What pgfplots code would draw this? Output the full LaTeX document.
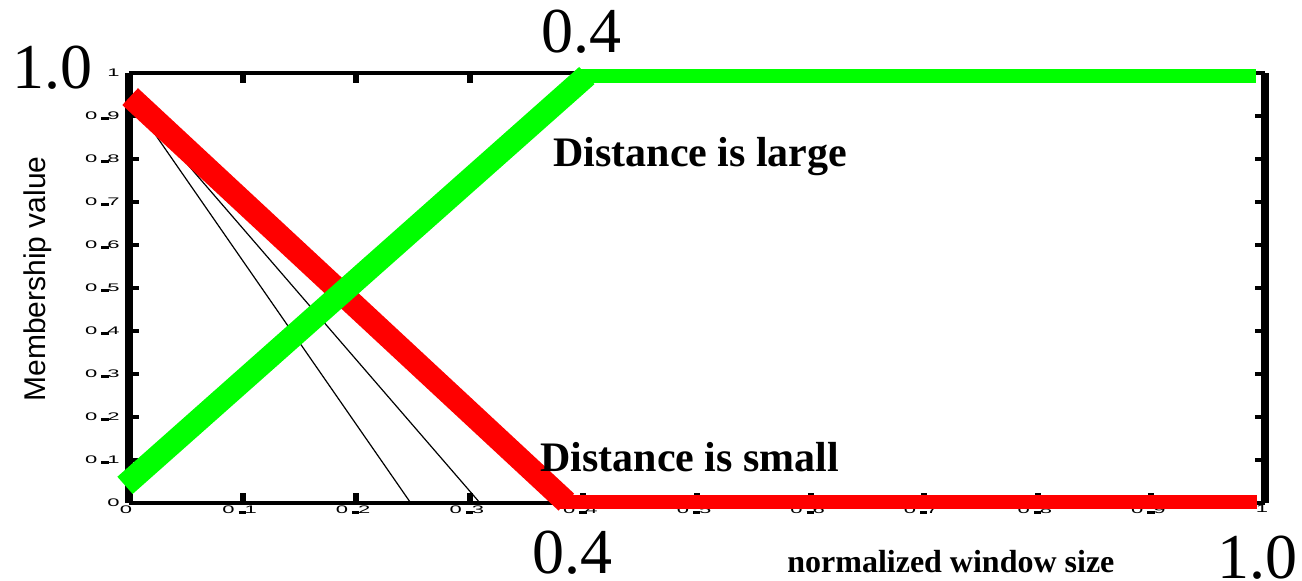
\documentclass[border=0pt]{standalone}
\usepackage{fontspec}
\setmainfont{Liberation Serif}
\newfontfamily\sans{Liberation Sans}
\usepackage{graphicx}
\usepackage{pgfplots}
\pgfplotsset{compat=1.18}
\newcommand{\sz}[1]{\scalebox{2.0}[1]{#1}}
\newcommand{\tl}[1]{\sz{0}\hspace{2pt}\raisebox{-0.6pt}{\rule{3.6pt}{1.7pt}}\hspace{-0.6pt}\sz{#1}}
\definecolor{mygreen}{RGB}{0,255,0}
\definecolor{myred}{RGB}{255,0,0}
\begin{document}
\begin{tikzpicture}
\begin{axis}[
  scale only axis, width=568pt, height=215pt,
  xmin=0, xmax=1, ymin=0, ymax=1,
  clip=false,
  separate axis lines,
  x axis line style={line width=2.3pt},
  y axis line style={line width=3.8pt},
  tick align=inside,
  major tick length=5pt,
  xtick={0,0.1,0.2,0.3,0.4,0.5,0.6,0.7,0.8,0.9,1},
  ytick={0,0.1,0.2,0.3,0.4,0.5,0.6,0.7,0.8,0.9,1},
  xticklabels={\sz{0},\tl{1},\tl{2},\tl{3},\tl{4},\tl{5},\tl{6},\tl{7},\tl{8},\tl{9},\sz{1}},
  yticklabels={\sz{0},\tl{1},\tl{2},\tl{3},\tl{4},\tl{5},\tl{6},\tl{7},\tl{8},\tl{9},\sz{1}},
  xtick style={line width=3pt, black},
  ytick style={line width=1.6pt, black},
  xticklabel style={font=\sans\fontsize{5.5}{6}\selectfont, anchor=north, inner sep=0pt, yshift=-1pt, xshift=-1.5pt},
  yticklabel style={font=\sans\fontsize{5.5}{6}\selectfont, anchor=east, inner sep=0pt, xshift=-4.5pt},
]
% thin black lines
\addplot[black, line width=0.6pt] coordinates {(0,0.945) (0.248,0)};
\addplot[black, line width=0.6pt] coordinates {(0,0.945) (0.309,0)};
% Distance is small (red)
\addplot[myred, line width=11.5pt] coordinates {(0.001,0.945) (0.385,0.002)};
\addplot[myred, line width=7pt] coordinates {(0.377,0.002) (0.993,0.002)};
% Distance is large (green)
\addplot[mygreen, line width=11.5pt] coordinates {(-0.0035,0.041) (0.403,0.994)};
\addplot[mygreen, line width=7pt] coordinates {(0.394,0.994) (0.992,0.994)};

\node[inner sep=0pt, font=\fontsize{32}{32}\selectfont] at (axis cs:-0.0669,1.0116) {1.0};
\node[inner sep=0pt, font=\fontsize{32}{32}\selectfont] at (axis cs:0.3979,1.0953) {0.4};
\node[inner sep=0pt, font=\fontsize{32}{32}\selectfont] at (axis cs:0.3908,-0.1163) {0.4};
\node[inner sep=0pt, font=\fontsize{32}{32}\selectfont] at (axis cs:0.993,-0.128) {1.0};
\node[inner sep=0pt, anchor=base west, font=\bfseries\fontsize{21}{21}\selectfont] at (axis cs:0.3732,0.7814) {Distance is large};
\node[inner sep=0pt, anchor=base west, font=\bfseries\fontsize{21}{21}\selectfont] at (axis cs:0.3618,0.0721) {Distance is small};
\node[inner sep=0pt, anchor=base west, font=\bfseries\fontsize{16}{16}\selectfont] at (axis cs:0.5792,-0.1628) {normalized window size};
\node[inner sep=0pt, anchor=base, rotate=90, font=\sans\fontsize{15}{15}\selectfont] at (axis cs:-0.0731,0.5209) {Membership value};
\coordinate (o) at (axis cs:0,0);
\end{axis}
\pgfresetboundingbox
\path ([shift={(-64.5pt,-39pt)}]o) rectangle ([shift={(586.5pt,251.5pt)}]o);
\end{tikzpicture}
\end{document}
